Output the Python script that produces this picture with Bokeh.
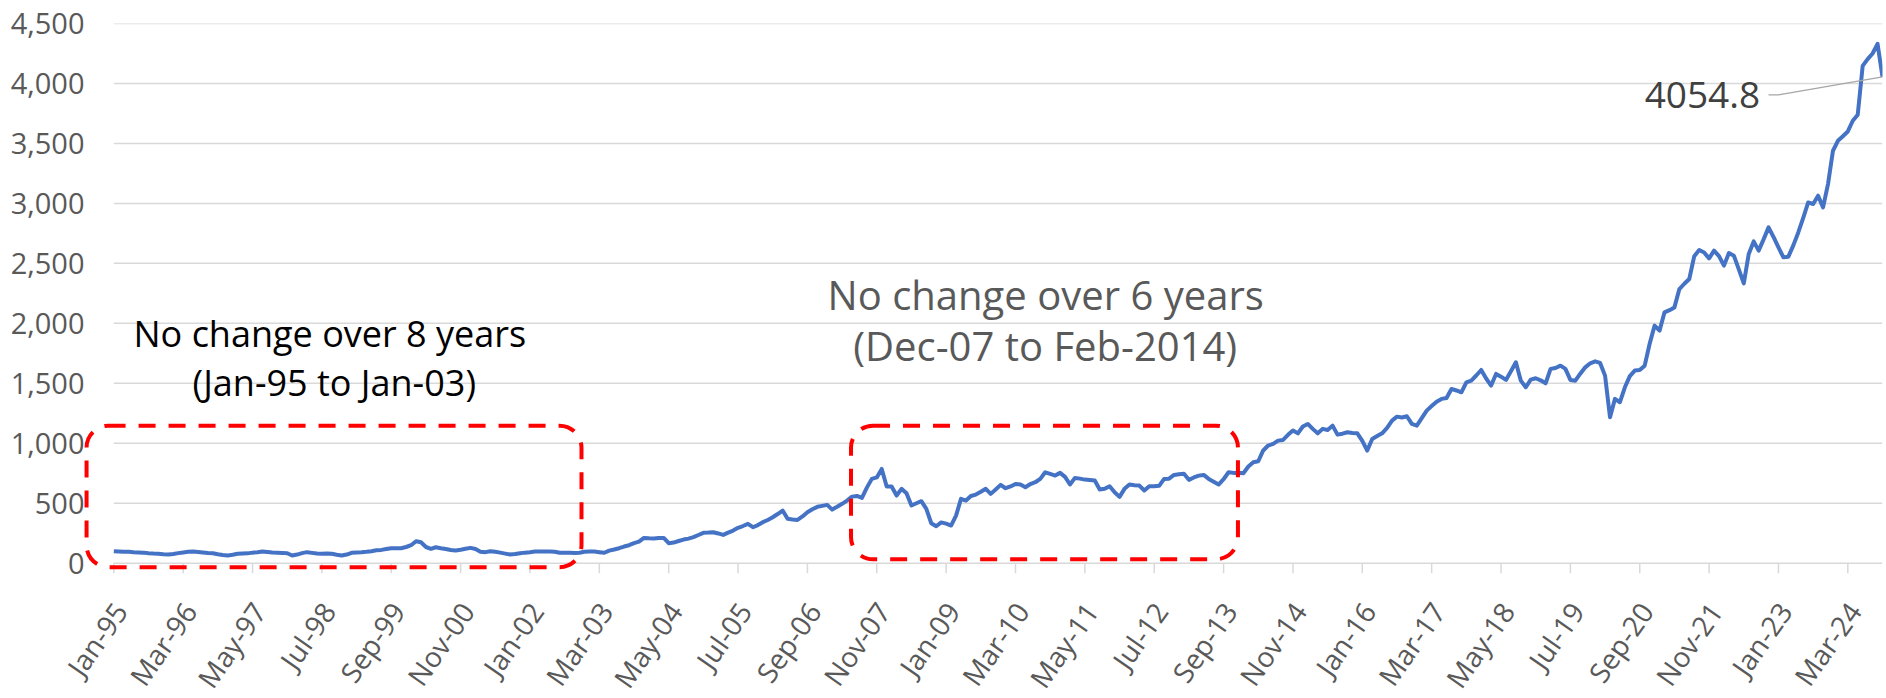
from bokeh.plotting import figure
from bokeh.models import (Range1d, FixedTicker, BoxAnnotation, Label,
                          NumeralTickFormatter)
from bokeh.embed import file_html
from bokeh.resources import INLINE
import math

MONTHS = ["Jan", "Feb", "Mar", "Apr", "May", "Jun",
          "Jul", "Aug", "Sep", "Oct", "Nov", "Dec"]
START_YEAR = 1995
TICK_EVERY = 14
Y_TICKS = [0, 500, 1000, 1500, 2000, 2500, 3000, 3500, 4000, 4500]

v1995 = [100, 98, 96, 95, 92, 90, 88, 83, 80, 78, 74, 72]
v1996 = [76, 84, 90, 95, 97, 94, 90, 85, 83, 75, 68, 64]
v1997 = [70, 78, 80, 82, 88, 92, 97, 94, 90, 88, 86, 83]
v1998 = [64, 72, 84, 92, 86, 80, 78, 80, 78, 70, 64, 72]
v1999 = [87, 90, 92, 95, 100, 108, 111, 118, 125, 124, 125, 135]
v2000 = [150, 183, 175, 135, 120, 133, 125, 118, 110, 106, 112, 120]
v2001 = [128, 118, 95, 92, 100, 95, 88, 80, 72, 76, 83, 88]
v2002 = [92, 97, 98, 97, 97, 96, 87, 87, 88, 86, 87, 95]
v2003 = [97, 97, 92, 87, 105, 114, 125, 139, 150, 167, 180, 211]
v2004 = [208, 206, 210, 211, 167, 172, 185, 197, 205, 217, 235, 253]
v2005 = [255, 258, 248, 236, 255, 272, 295, 310, 328, 300, 318, 342]
v2006 = [360, 383, 410, 439, 370, 365, 361, 390, 425, 450, 470, 478]
v2007 = [486, 447, 470, 495, 522, 555, 561, 545, 630, 703, 715, 786]
v2008 = [639, 639, 564, 620, 583, 481, 500, 517, 453, 333, 308, 340]
v2009 = [330, 314, 397, 536, 522, 560, 572, 595, 620, 578, 615, 653]
v2010 = [625, 640, 661, 656, 633, 660, 675, 703, 758, 745, 731, 753]
v2011 = [720, 656, 711, 705, 697, 693, 689, 614, 620, 642, 592, 553]
v2012 = [620, 656, 650, 647, 606, 642, 642, 645, 703, 705, 736, 742]
v2013 = [745, 695, 715, 730, 736, 703, 680, 656, 700, 758, 753, 755]
v2014 = [750, 806, 842, 850, 940, 981, 995, 1022, 1028, 1070, 1106, 1083]
v2015 = [1140, 1161, 1120, 1083, 1120, 1110, 1147, 1072, 1080, 1092, 1085, 1083]
v2016 = [1020, 939, 1036, 1060, 1083, 1128, 1189, 1222, 1215, 1225, 1161, 1147]
v2017 = [1210, 1272, 1310, 1347, 1370, 1378, 1453, 1440, 1425, 1508, 1522, 1565]
v2018 = [1611, 1540, 1481, 1578, 1555, 1528, 1600, 1675, 1522, 1467, 1531, 1542]
v2019 = [1525, 1500, 1620, 1628, 1647, 1620, 1528, 1522, 1580, 1633, 1667, 1683]
v2020 = [1670, 1564, 1217, 1370, 1342, 1467, 1560, 1606, 1610, 1647, 1830, 1981]
v2021 = [1939, 2092, 2110, 2133, 2286, 2330, 2370, 2560, 2611, 2590, 2542, 2606]
v2022 = [2560, 2481, 2586, 2564, 2450, 2333, 2578, 2683, 2606, 2700, 2800, 2720]
v2023 = [2633, 2550, 2556, 2650, 2758, 2880, 3008, 2995, 3064, 2967, 3161, 3439]
v2024 = [3522, 3560, 3600, 3689, 3739, 4147, 4203, 4250, 4330, 4054.8]

values = (v1995 + v1996 + v1997 + v1998 + v1999 + v2000 + v2001 + v2002 +
          v2003 + v2004 + v2005 + v2006 + v2007 + v2008 + v2009 + v2010 +
          v2011 + v2012 + v2013 + v2014 + v2015 + v2016 + v2017 + v2018 +
          v2019 + v2020 + v2021 + v2022 + v2023 + v2024)
idx = list(range(len(values)))
month_labels = ["%s-%02d" % (MONTHS[k % 12], (START_YEAR + k // 12) % 100)
                for k in idx]
tick_idx = list(range(0, len(values), TICK_EVERY))
last_x = len(values) - 1
last_y = values[-1]

FONT = "Open Sans"
AXIS_GREY = "#595959"
GRID = "#D9D9D9"
PX_PER_UNIT = (562.7 - 23) / 4500.0   # vertical pixels per value unit

p = figure(width=1886, height=698, output_backend="svg", toolbar_location=None,
           x_range=Range1d(-11.77, last_x), y_range=Range1d(-1128.2, 4500),
           min_border_left=55, min_border_right=4, min_border_top=23,
           min_border_bottom=0)
p.outline_line_color = None
p.background_fill_color = "white"
p.border_fill_color = "white"
p.xgrid.grid_line_color = None
p.ygrid.grid_line_color = None
p.xaxis.visible = False

# y axis (labels only)
p.yaxis.ticker = FixedTicker(ticks=Y_TICKS)
p.yaxis.formatter = NumeralTickFormatter(format="0,0")
p.yaxis.axis_line_color = None
p.yaxis.major_tick_line_color = None
p.yaxis.minor_tick_line_color = None
p.yaxis.major_label_text_font = FONT
p.yaxis.major_label_text_font_size = "29px"
p.yaxis.major_label_text_color = AXIS_GREY
p.yaxis.major_label_standoff = -35

# horizontal gridlines spanning the data (the 0 line doubles as axis line)
p.segment(x0=[0] * len(Y_TICKS), x1=[last_x] * len(Y_TICKS),
          y0=Y_TICKS, y1=Y_TICKS, line_color=GRID, line_width=1.5)

# category tick marks, 10px long below the axis line
tick_len = 10 / PX_PER_UNIT
p.segment(x0=tick_idx, x1=tick_idx, y0=[0] * len(tick_idx),
          y1=[-tick_len] * len(tick_idx), line_color=GRID, line_width=1.5)

# rotated category labels
label_y = -42.5 / PX_PER_UNIT
for k in tick_idx:
    p.add_layout(Label(x=k + 1.3, y=label_y, text=month_labels[k],
                       angle=math.radians(55), text_align="right",
                       text_baseline="middle", text_font=FONT,
                       text_font_size="28px", text_color=AXIS_GREY))

p.line(idx, values, line_color="#4472C4", line_width=4, line_join="round")

# dashed rounded boxes
for l, r, b, t in [(-5.5, 94.4, -33, 1147), (148.8, 226.9, 33, 1147)]:
    p.add_layout(BoxAnnotation(left=l, right=r, bottom=b, top=t,
                               fill_alpha=0, line_alpha=1.0,
                               line_color="#FF0000", line_width=4,
                               line_dash="17 13", border_radius=22,
                               level="overlay"))

# annotation texts
p.add_layout(Label(x=43.6, y=1914, text="No change over 8 years",
                   text_align="center", text_baseline="middle",
                   text_font=FONT, text_font_size="36px", text_color="black"))
p.add_layout(Label(x=44.5, y=1508, text="(Jan-95 to Jan-03)",
                   text_align="center", text_baseline="middle",
                   text_font=FONT, text_font_size="36px", text_color="black"))
p.add_layout(Label(x=188.1, y=2243, text="No change over 6 years",
                   text_align="center", text_baseline="middle",
                   text_font=FONT, text_font_size="40px", text_color=AXIS_GREY))
p.add_layout(Label(x=188.0, y=1814, text="(Dec-07 to Feb-2014)",
                   text_align="center", text_baseline="middle",
                   text_font=FONT, text_font_size="40px", text_color=AXIS_GREY))

# data label of last point with leader line
lab_x = last_x - 24.7
lab_y = last_y - 150
p.add_layout(Label(x=lab_x, y=lab_y, text=str(last_y),
                   text_align="right", text_baseline="middle",
                   text_font=FONT, text_font_size="37px", text_color="#404040"))
p.line([lab_x + 1.7, lab_x + 3.7, last_x], [lab_y, lab_y, last_y],
       line_color="#A6A6A6", line_width=1.2)

open("out.html", "w").write(file_html(p, INLINE))
